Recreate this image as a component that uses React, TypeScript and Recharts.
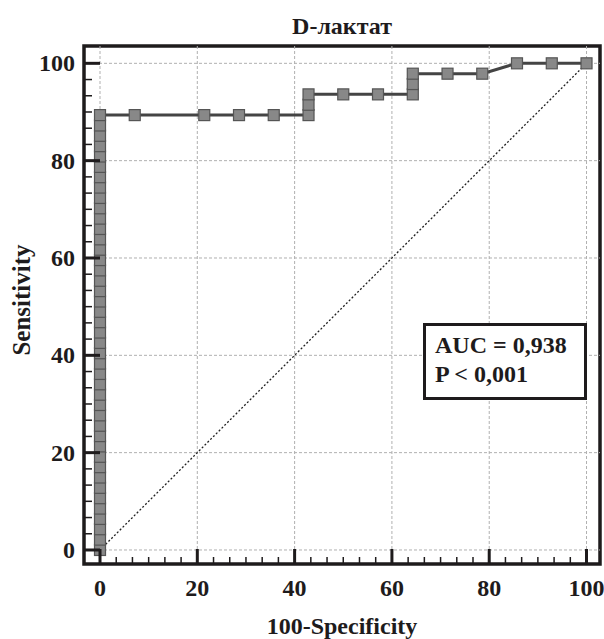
import React from 'react';
import { ComposedChart, Line, XAxis, YAxis, ReferenceLine, ReferenceArea } from 'recharts';

const fprValues = [
  0, 0, 0, 0, 0, 0, 0, 0, 0, 0, 0, 0, 0, 0, 0, 0, 0, 0, 0, 0, 0, 0,
  0, 0, 0, 0, 0, 0, 0, 0, 0, 0, 0, 0, 0, 0, 0, 0, 0, 0, 0, 0, 0,
  7.14, 21.43, 28.57, 35.71, 42.86, 42.86, 42.86, 50, 57.14, 64.29, 64.29, 64.29,
  71.43, 78.57, 85.71, 92.86, 100,
];
const sensValues = [
  0, 2.13, 4.26, 6.38, 8.51, 10.64, 12.77, 14.89, 17.02, 19.15, 21.28, 23.4,
  25.53, 27.66, 29.79, 31.91, 34.04, 36.17, 38.3, 40.43, 42.55, 44.68,
  46.81, 48.94, 51.06, 53.19, 55.32, 57.45, 59.57, 61.7, 63.83, 65.96, 68.09,
  70.21, 72.34, 74.47, 76.6, 78.72, 80.85, 82.98, 85.11, 87.23, 89.36,
  89.36, 89.36, 89.36, 89.36, 89.36, 91.49, 93.62, 93.62, 93.62, 93.62, 95.74, 97.87,
  97.87, 97.87, 100, 100, 100,
];
const majorTicks = [0, 20, 40, 60, 80, 100];
const minorPerMajor = 6;
const title = 'D-лактат';
const xLabel = '100-Specificity';
const yLabel = 'Sensitivity';
const aucLines = ['AUC = 0,938', 'P < 0,001'];

const data = fprValues.map((x, i) => ({ x, y: sensValues[i] }));

const allTicks: number[] = [];
for (let i = 0; i < majorTicks.length - 1; i++) {
  const a = majorTicks[i];
  const b = majorTicks[i + 1];
  for (let k = 0; k < minorPerMajor; k++) allTicks.push(a + ((b - a) * k) / minorPerMajor);
}
allTicks.push(majorTicks[majorTicks.length - 1]);

const xDomain: [number, number] = [-3.29, 102.77];
const yDomain: [number, number] = [-2.88, 103.56];

const FONT = '"Liberation Serif", "Times New Roman", serif';
const INK = '#1e1b1c';
const X_MARGIN = 14;
const Y_MARGIN = 9;

const isMajor = (v: number) => majorTicks.some((m) => Math.abs(m - v) < 1e-6);

const XTick = (props: any) => {
  const { x, y, payload } = props;
  const v = payload.value;
  const axisY = y - X_MARGIN;
  const major = isMajor(v);
  return (
    <g>
      <line x1={x} x2={x} y1={axisY} y2={axisY - (major ? 15 : 7)} stroke={INK} strokeWidth={major ? 3 : 1.5} />
      {major && (
        <text x={x} y={y} dy={18} textAnchor="middle" fontFamily={FONT} fontWeight="bold" fontSize={24} fill={INK}>
          {v}
        </text>
      )}
    </g>
  );
};

const YTick = (props: any) => {
  const { x, y, payload } = props;
  const v = payload.value;
  const axisX = x + Y_MARGIN;
  const major = isMajor(v);
  return (
    <g>
      <line x1={axisX} x2={axisX + (major ? 16 : 8)} y1={y} y2={y} stroke={INK} strokeWidth={major ? 3 : 1.5} />
      {major && (
        <text x={x} y={y} dy={8} textAnchor="end" fontFamily={FONT} fontWeight="bold" fontSize={24} fill={INK}>
          {v}
        </text>
      )}
    </g>
  );
};

const SquareDot = (props: any) => {
  const { cx, cy, index } = props;
  if (cx == null || cy == null) return <g key={index} />;
  return <rect key={index} x={cx - 5.5} y={cy - 5.5} width={11} height={11} fill="#888" stroke="#555" strokeWidth={1.2} />;
};

export default function App() {
  return (
    <div style={{ position: 'absolute', left: 0, top: 0, width: 604, height: 639, background: '#fff' }}>
      <ComposedChart width={604} height={639} data={data} margin={{ top: 46, right: 4, bottom: 0, left: 0 }}>
        <XAxis
          type="number"
          dataKey="x"
          domain={xDomain}
          ticks={allTicks}
          interval={0}
          allowDataOverflow
          tickLine={false}
          axisLine={false}
          tickSize={0}
          tickMargin={X_MARGIN}
          height={75}
          tick={<XTick />}
        />
        <YAxis
          type="number"
          dataKey="y"
          domain={yDomain}
          ticks={allTicks}
          interval={0}
          allowDataOverflow
          tickLine={false}
          axisLine={false}
          tickSize={0}
          tickMargin={Y_MARGIN}
          width={84}
          tick={<YTick />}
        />
        {majorTicks.map((v) => (
          <ReferenceLine key={'gx' + v} x={v} stroke="#b0b0b0" strokeDasharray="3 2" strokeWidth={1} />
        ))}
        {majorTicks.map((v) => (
          <ReferenceLine key={'gy' + v} y={v} stroke="#b0b0b0" strokeDasharray="3 2" strokeWidth={1} />
        ))}
        <ReferenceLine
          segment={[{ x: 0, y: 0 }, { x: 100, y: 100 }]}
          stroke="#222"
          strokeDasharray="2 2"
          strokeWidth={1.3}
        />
        <Line
          type="linear"
          dataKey="y"
          stroke="#444"
          strokeWidth={3}
          dot={<SquareDot />}
          activeDot={false}
          isAnimationActive={false}
        />
        <ReferenceArea
          x1={xDomain[0]}
          x2={xDomain[1]}
          y1={yDomain[0]}
          y2={yDomain[1]}
          fill="none"
          fillOpacity={0}
          stroke={INK}
          strokeWidth={3.5}
        />
      </ComposedChart>
      <div style={{ position: 'absolute', left: 84, width: 516, top: 12, lineHeight: '28px', textAlign: 'center', fontFamily: FONT, fontWeight: 'bold', fontSize: 24, color: INK }}>
        {title}
      </div>
      <div style={{ position: 'absolute', left: 84, width: 516, top: 612, lineHeight: '28px', textAlign: 'center', fontFamily: FONT, fontWeight: 'bold', fontSize: 24, color: INK }}>
        {xLabel}
      </div>
      <div
        style={{
          position: 'absolute',
          left: 22,
          top: 300,
          transform: 'translate(-50%, -50%) rotate(-90deg)',
          whiteSpace: 'nowrap',
          lineHeight: '28px',
          fontFamily: FONT,
          fontWeight: 'bold',
          fontSize: 25,
          color: INK,
        }}
      >
        {yLabel}
      </div>
      <div
        style={{
          position: 'absolute',
          left: 423,
          top: 323,
          width: 164,
          height: 77,
          border: `3px solid ${INK}`,
          background: '#fff',
          fontFamily: FONT,
          fontWeight: 'bold',
          fontSize: 24,
          color: INK,
          lineHeight: '29px',
          paddingLeft: 9,
          paddingTop: 5,
          boxSizing: 'border-box',
        }}
      >
        {aucLines.map((t) => (
          <div key={t}>{t}</div>
        ))}
      </div>
    </div>
  );
}
